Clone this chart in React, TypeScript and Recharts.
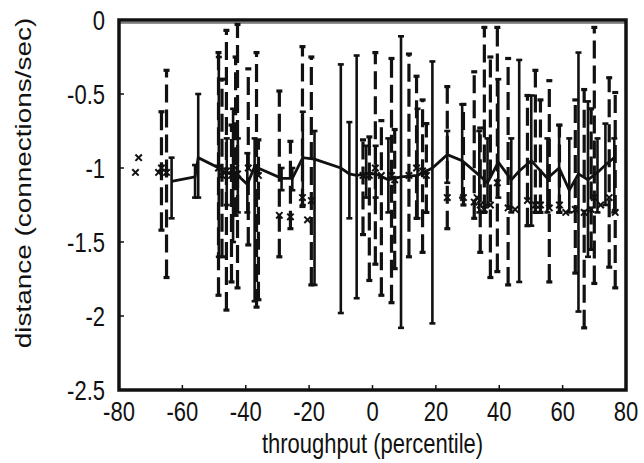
import React from "react";
import {
  ComposedChart,
  Line,
  Scatter,
  XAxis,
  YAxis,
  ErrorBar,
  ReferenceArea,
  ReferenceLine,
} from "recharts";

// per-trial measurements (dashed error bars, x markers)
const trialX = [-66.6, -65, -48.6, -47.5, -46.1, -44.5, -43.2, -42.6, -39.2, -36.6, -36, -29.4, -25.9, -22.1, -19.3, -3, -1, 0.9, 2.8, 6, 7, 11.5, 13.9, 15.8, 17, 23.6, 28.7, 32.1, 34, 35.3, 37.2, 39.4, 42.8, 48.9, 51.4, 53, 55.8, 59, 64, 66.8, 69, 70, 74.7, 76.6];
const trialY = [-1.0, -1.03, -1.0, -1.05, -1.02, -1.05, -1.0, -1.04, -1.0, -1.0, -1.05, -1.32, -1.33, -1.2, -1.22, -1.05, -1.05, -1.0, -1.05, -1.05, -1.08, -1.05, -1.0, -1.02, -1.05, -1.2, -1.2, -1.23, -1.25, -1.28, -1.25, -1.1, -1.27, -1.22, -1.25, -1.25, -1.27, -1.25, -1.28, -1.3, -1.28, -1.2, -1.2, -1.3];
const trialLow = [-1.42, -1.74, -1.86, -1.6, -1.96, -1.77, -1.32, -1.81, -1.52, -1.94, -1.89, -1.6, -1.41, -1.26, -1.79, -1.45, -1.76, -1.65, -1.86, -1.91, -1.68, -1.6, -1.34, -1.57, -1.3, -1.41, -1.25, -1.34, -1.57, -1.3, -1.74, -1.7, -1.79, -1.39, -1.3, -1.3, -1.77, -1.3, -1.71, -2.08, -1.55, -1.78, -1.67, -1.81];
const trialHigh = [-0.62, -0.34, -0.22, -0.4, -0.07, -0.71, -0.25, -0.03, -0.33, -0.22, -0.81, -0.48, -0.82, -0.18, -0.25, -0.81, -0.79, -0.22, -0.68, -0.26, -0.74, -0.23, -0.38, -0.54, -0.7, -0.45, -0.57, -0.35, -0.73, -0.05, -0.25, -0.05, -0.26, -0.51, -0.34, -0.54, -0.41, -0.71, -0.54, -0.47, -0.6, -0.05, -0.39, -0.49];

// mean curve (solid line, solid error bars)
const meanX = [-63.4, -56, -55, -48.5, -46, -44, -42.5, -39.5, -37.2, -28.7, -25.3, -22, -18.3, -10, -7.3, -5, -2, 1, 5, 9, 14.2, 18.9, 23.6, 28.3, 33.7, 36.3, 39.7, 43.8, 46.3, 50.1, 55.2, 58.9, 62.1, 65, 68, 71, 73.5, 76.3];
const meanY = [-1.09, -1.06, -0.93, -1.0, -1.04, -1.02, -1.05, -1.11, -0.99, -1.07, -1.07, -0.93, -0.94, -1.0, -1.04, -1.05, -1.04, -1.04, -1.08, -1.06, -1.05, -1.0, -0.91, -0.95, -1.05, -1.1, -0.96, -1.08, -1.02, -0.95, -1.07, -1.0, -1.15, -1.04, -1.08, -1.03, -0.98, -0.93];
const meanLow = [-1.34, -1.2, -1.2, -1.6, -1.25, -1.5, -1.3, -1.3, -1.9, -1.15, -1.15, -1.25, -1.79, -1.98, -1.34, -1.88, -1.2, -1.2, -1.3, -2.08, -1.34, -2.05, -1.1, -1.2, -1.3, -1.25, -1.2, -1.3, -1.77, -1.39, -1.3, -1.3, -1.3, -1.97, -1.6, -1.3, -1.25, -1.3];
const meanHigh = [-0.93, -0.98, -0.5, -0.25, -0.8, -0.6, -0.8, -0.9, -0.8, -1.0, -1.0, -0.62, -0.75, -0.3, -0.69, -0.24, -0.85, -0.85, -0.8, -0.11, -0.6, -0.28, -0.75, -0.57, -0.75, -0.8, -0.4, -0.8, -0.27, -0.51, -0.8, -0.71, -0.8, -0.22, -0.55, -0.8, -0.7, -0.8];

// isolated markers without bars
const strayX = [-74.8, -73.8, -67.5, -20.5, 33, 45, 61, 72];
const strayY = [-1.03, -0.93, -1.03, -1.35, -1.2, -1.28, -1.3, -1.25];

const xTicks = [-80, -60, -40, -20, 0, 20, 40, 60, 80];
const yTicks = [-2.5, -2, -1.5, -1, -0.5, 0];

const trials = trialX.map((x, i) => ({
  x,
  y: trialY[i],
  err: [trialY[i] - trialLow[i], trialHigh[i] - trialY[i]],
}));
const means = meanX.map((x, i) => ({
  x,
  y: meanY[i],
  err: [meanY[i] - meanLow[i], meanHigh[i] - meanY[i]],
}));
const strays = strayX.map((x, i) => ({ x, y: strayY[i] }));

const FONT = "'Liberation Sans', Arial, sans-serif";
const INK = "#111";
const STRETCH = 1.27; // glyphs in the source are taller than wide

const Txt = ({ x, y, anchor, children }: any) => (
  <text
    transform={`translate(${x},${y}) scale(1,${STRETCH})`}
    textAnchor={anchor}
    fontFamily={FONT}
    fontSize={22}
    fill={INK}
  >
    {children}
  </text>
);

const Cross = (props: any) => {
  const { cx, cy } = props;
  const s = 3.2;
  return (
    <g stroke={INK} strokeWidth={2}>
      <line x1={cx - s} y1={cy - s} x2={cx + s} y2={cy + s} />
      <line x1={cx - s} y1={cy + s} x2={cx + s} y2={cy - s} />
    </g>
  );
};

const BottomTick = (props: any) => {
  const { x, y, payload } = props;
  const axisY = y - 10;
  const edge = payload.value === -80 || payload.value === 80;
  return (
    <g>
      {!edge && <line x1={x} y1={axisY} x2={x} y2={axisY - 5} stroke={INK} strokeWidth={1.5} />}
      <Txt x={x} y={axisY + 31} anchor="middle">
        {payload.value}
      </Txt>
    </g>
  );
};

const TopTick = (props: any) => {
  const { x, y, payload } = props;
  if (payload.value === -80 || payload.value === 80) return <g />;
  return <line x1={x} y1={y} x2={x} y2={y + 5} stroke={INK} strokeWidth={1.5} />;
};

const LeftTick = (props: any) => {
  const { x, y, payload } = props;
  const axisX = x + 14;
  const edge = payload.value === 0 || payload.value === -2.5;
  return (
    <g>
      {!edge && <line x1={axisX} y1={y} x2={axisX + 5} y2={y} stroke={INK} strokeWidth={1.5} />}
      <Txt x={x} y={y + 10} anchor="end">
        {payload.value}
      </Txt>
    </g>
  );
};

const RightTick = (props: any) => {
  const { x, y, payload } = props;
  if (payload.value === 0 || payload.value === -2.5) return <g />;
  return <line x1={x} y1={y} x2={x - 5} y2={y} stroke={INK} strokeWidth={1.5} />;
};

export default function App() {
  return (
    <div style={{ position: "absolute", left: 0, top: 0, background: "#fff" }}>
      <ComposedChart width={644} height={463} margin={{ top: 0, right: 0, bottom: 0, left: 0 }}>
        <XAxis
          type="number"
          dataKey="x"
          domain={[-80, 80]}
          ticks={xTicks}
          height={73}
          axisLine={false}
          tickLine={false}
          tickSize={0}
          tickMargin={10}
          tick={<BottomTick />}
          interval={0}
          label={{
            content: (p: any) => {
              const vb = p.viewBox;
              return (
                <Txt x={vb.x + vb.width / 2} y={vb.y + 63} anchor="middle">
                  throughput (percentile)
                </Txt>
              );
            },
          }}
        />
        <XAxis
          xAxisId="top"
          orientation="top"
          type="number"
          domain={[-80, 80]}
          ticks={xTicks}
          height={20}
          axisLine={false}
          tickLine={false}
          tickSize={0}
          tickMargin={0}
          tick={<TopTick />}
          interval={0}
        />
        <YAxis
          type="number"
          dataKey="y"
          domain={[-2.5, 0]}
          ticks={yTicks}
          width={119}
          axisLine={false}
          tickLine={false}
          tickSize={0}
          tickMargin={14}
          tick={<LeftTick />}
          interval={0}
          label={{
            content: (p: any) => {
              const vb = p.viewBox;
              const cx = vb.x + 23;
              const cy = vb.y + vb.height / 2 - 22;
              return (
                <text
                  transform={`translate(${cx},${cy}) rotate(-90) scale(${STRETCH},1)`}
                  textAnchor="middle"
                  dominantBaseline="central"
                  fontFamily={FONT}
                  fontSize={22}
                  fill={INK}
                >
                  distance (connections/sec)
                </text>
              );
            },
          }}
        />
        <YAxis
          yAxisId="right"
          orientation="right"
          type="number"
          domain={[-2.5, 0]}
          ticks={yTicks}
          width={18}
          axisLine={false}
          tickLine={false}
          tickSize={0}
          tickMargin={0}
          tick={<RightTick />}
          interval={0}
        />
        <ReferenceArea x1={-80} x2={80} y1={-2.5} y2={0} fill="none" stroke={INK} strokeWidth={3.5} ifOverflow="visible" />
        <ReferenceLine y={-0.02} stroke={INK} strokeWidth={1} />
        <Scatter data={trials} shape={<Cross />} isAnimationActive={false}>
          <ErrorBar
            dataKey="err"
            direction="y"
            width={3}
            stroke={INK}
            strokeWidth={3.2}
            strokeDasharray="18 7"
            isAnimationActive={false}
          />
        </Scatter>
        <Scatter data={strays} shape={<Cross />} isAnimationActive={false} />
        <Line
          data={means}
          dataKey="y"
          type="linear"
          stroke={INK}
          strokeWidth={2.8}
          dot={false}
          activeDot={false}
          isAnimationActive={false}
        >
          <ErrorBar dataKey="err" width={3} stroke={INK} strokeWidth={2.6} isAnimationActive={false} />
        </Line>
      </ComposedChart>
    </div>
  );
}
